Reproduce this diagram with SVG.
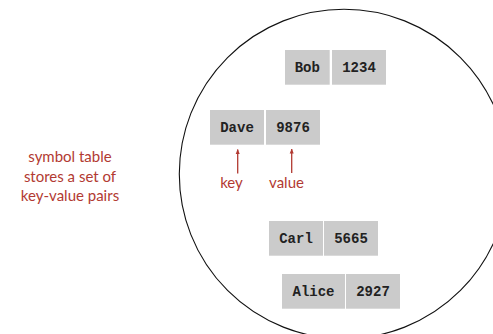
<svg xmlns="http://www.w3.org/2000/svg" width="493" height="334" viewBox="0 0 493 334">
<style>
.cell{fill:#cbcbcb}
.mono{font-family:"Liberation Mono","Courier New",monospace;font-weight:bold;font-size:14px;fill:#222;text-anchor:middle}
.lab{font-family:Lato,"Open Sans",sans-serif;font-size:15px;fill:#b23a32;text-anchor:middle}
.arr{stroke:#b23a32;stroke-width:1.3;fill:none;marker-end:url(#ah)}
</style>
<defs>
<marker id="ah" viewBox="0 0 10 10" refX="9" refY="5" markerWidth="5" markerHeight="5" orient="auto" markerUnits="userSpaceOnUse">
<path d="M0,1 L10,5 L0,9 z" fill="#b23a32"/>
</marker>
</defs>
<rect width="493" height="334" fill="#fff"/>
<circle cx="344" cy="174" r="164.7" fill="none" stroke="#111" stroke-width="1.1"/>
<g id="desc">
<text class="lab" x="70" y="162">symbol table</text>
<text class="lab" x="70" y="181.5">stores a set of</text>
<text class="lab" x="70" y="201">key-value pairs</text>
</g>
<g id="bob">
<rect class="cell" x="285" y="50" width="44.7" height="34.7"/>
<rect class="cell" x="332" y="50" width="54" height="34.7"/>
<text class="mono" x="307.3" y="72">Bob</text>
<text class="mono" x="359" y="72">1234</text>
</g>
<g id="dave">
<rect class="cell" x="210" y="110" width="54" height="34.7"/>
<rect class="cell" x="266" y="110" width="54" height="34.7"/>
<text class="mono" x="237" y="132">Dave</text>
<text class="mono" x="293" y="132">9876</text>
</g>
<g id="carl">
<rect class="cell" x="269" y="221" width="54" height="34.7"/>
<rect class="cell" x="324" y="221" width="54" height="34.7"/>
<text class="mono" x="296" y="243">Carl</text>
<text class="mono" x="351" y="243">5665</text>
</g>
<g id="alice">
<rect class="cell" x="282" y="274" width="63" height="34.7"/>
<rect class="cell" x="346" y="274" width="54" height="34.7"/>
<text class="mono" x="313.5" y="296">Alice</text>
<text class="mono" x="373" y="296">2927</text>
</g>
<g id="connectors">
<line class="arr" x1="237.7" y1="173.5" x2="237.7" y2="149.5"/>
<line class="arr" x1="291.7" y1="173" x2="291.7" y2="149"/>
</g>
<g id="labels">
<text class="lab" x="231.5" y="188">key</text>
<text class="lab" x="286.5" y="188">value</text>
</g>
</svg>
